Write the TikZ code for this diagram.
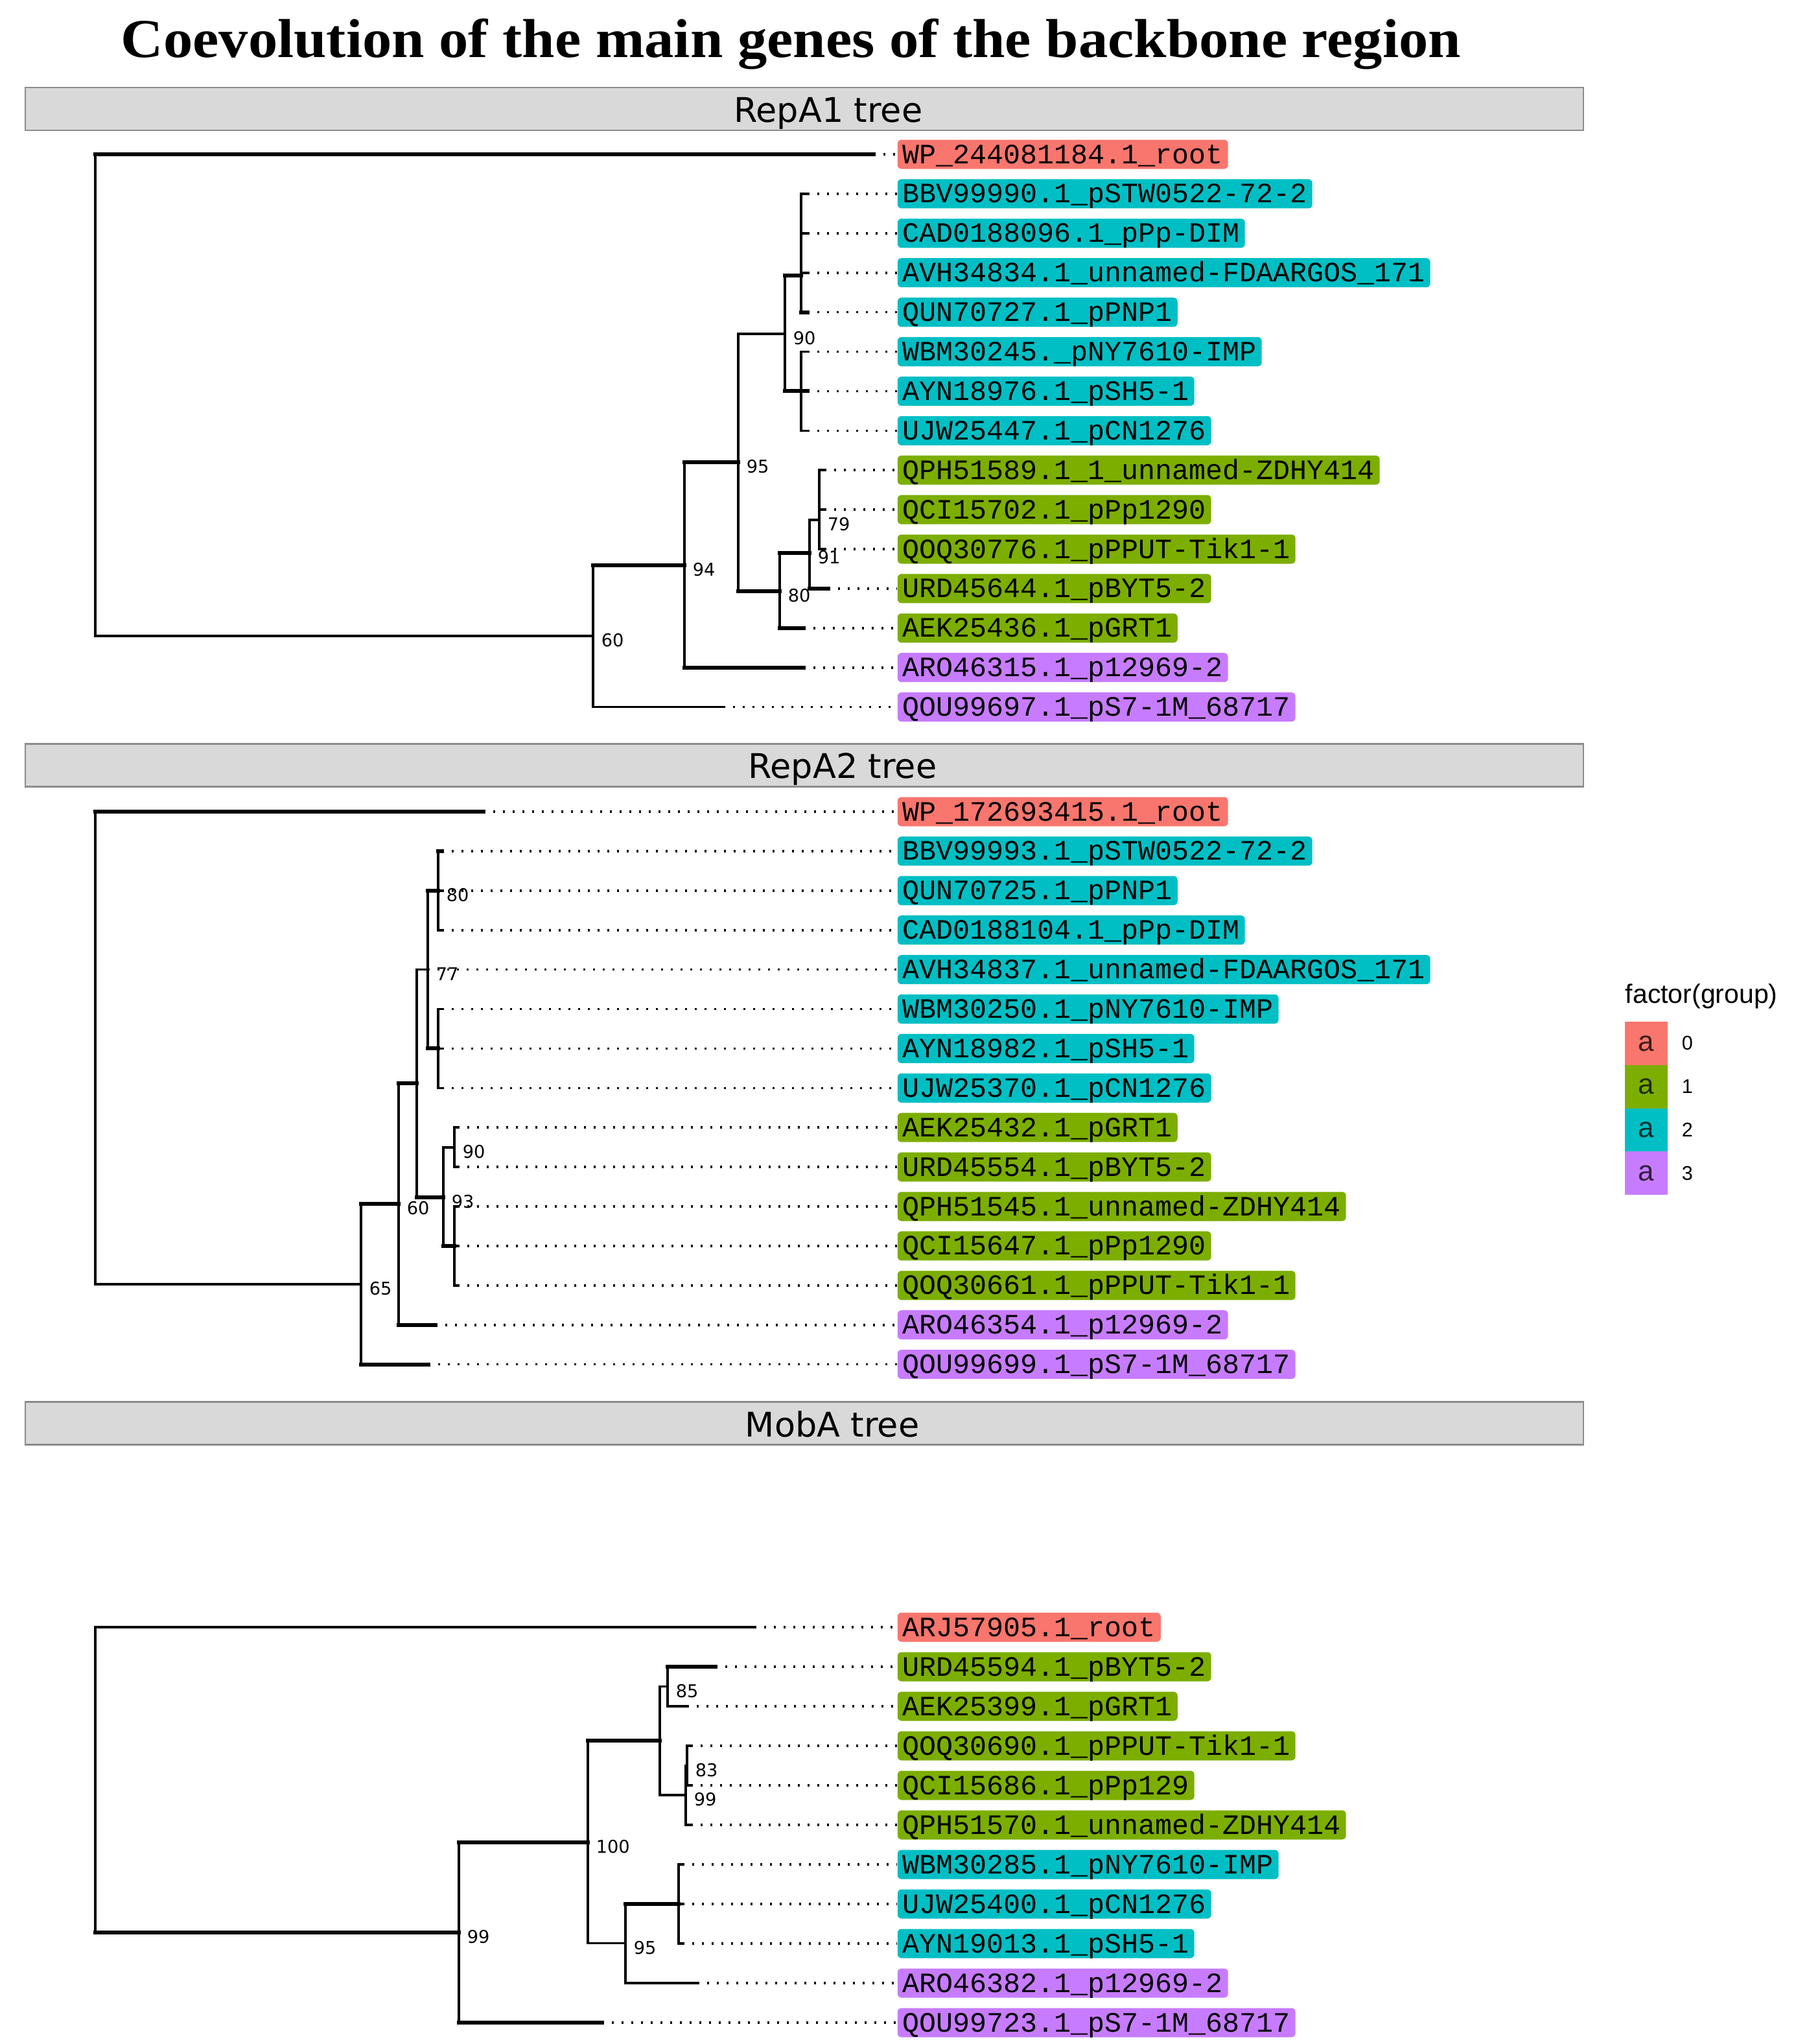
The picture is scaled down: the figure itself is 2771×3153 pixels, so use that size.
\documentclass[tikz,border=0pt]{standalone}
\usepackage{fontspec}
\usepackage{graphicx}
\usetikzlibrary{calc}
\setmainfont{DejaVu Sans}
\newfontfamily\monof{Liberation Mono}
\newfontfamily\legf{Liberation Sans}
\newfontfamily\titlef{Liberation Serif}
\definecolor{cr}{HTML}{F8766D}
\definecolor{cg}{HTML}{7CAE00}
\definecolor{cc}{HTML}{00BFC4}
\definecolor{cp}{HTML}{C77CFF}
\definecolor{stripfill}{HTML}{D9D9D9}
\definecolor{stripdraw}{HTML}{8C8C8C}
\tikzset{
  br/.style={line width=0.9pt, line cap=rect, black},
  bt/.style={line width=1.5pt},
  dots/.style={line width=0.9pt, dash pattern=on 0.85pt off 2.9pt, black},
  lab/.style={anchor=west, rounded corners=1.5pt, inner xsep=2pt, inner ysep=0pt,
    minimum height=11.25pt, text height=7pt, text depth=0pt,
    font=\monof\fontsize{10.83}{12}\selectfont},
  bsl/.style={anchor=west, inner sep=0pt, font=\fontsize{6.8}{8}\selectfont},
  strip/.style={draw=stripdraw, fill=stripfill, line width=0.6pt, inner sep=0pt,
    minimum width=601pt, minimum height=16.5pt},
  striptext/.style={anchor=base, inner sep=0pt, font=\fontsize{13.1}{15}\selectfont},
  keybox/.style={minimum size=16.7pt, inner sep=0pt, font=\legf\fontsize{11}{12}\selectfont},
  legl/.style={anchor=west, inner sep=0pt, font=\legf\fontsize{7.65}{9}\selectfont},
  legt/.style={anchor=west, inner sep=0pt, font=\legf\fontsize{10.25}{12}\selectfont}
}
\newcommand\edg[3][]{\draw[br] (#2) -- (#2 |- #3); \draw[br,#1] (#2 |- #3) -- (#3);}
\newcommand\lf[5]{\coordinate (#1e) at (#3,#2); \node[lab,fill=#4] (#1) at (1384,#2) {#5}; \draw[dots] (#1e) -- (#1.west);}
\newcommand\bs[2]{\node[bsl] (#1lbl) at ($(#1)+(12,7)$) {#2};}
\begin{document}
\begin{tikzpicture}[x=0.25pt,y=-0.25pt]
\useasboundingbox (0,0) rectangle (2771,3153);
\fill[white] (0,0) rectangle (2771,3153);

% title
\node[anchor=base west, inner sep=0pt] (title) at (186,88)
  {\resizebox{516.75pt}{\height}{\titlef\bfseries\fontsize{21.15}{24}\selectfont Coevolution of the main genes of the backbone region}};

% strips
\node[strip] (s1) at (1241,168) {};
\node[striptext] (s1t) at (1278,188) {RepA1 tree};
\node[strip] (s2) at (1241,1180.5) {};
\node[striptext] (s2t) at (1300,1200) {RepA2 tree};
\node[strip] (s3) at (1241,2195.5) {};
\node[striptext] (s3t) at (1284,2216) {MobA tree};

% ---------------- RepA1 tree ----------------
\coordinate (a1R) at (147,610);
\coordinate (a1n60) at (915,981);
\coordinate (a1n94) at (1056,872);
\coordinate (a1n95) at (1139,713);
\coordinate (a1n90) at (1211,515);
\coordinate (a1A) at (1236,425);
\coordinate (a1B) at (1236,603.4);
\coordinate (a1n80) at (1203,912);
\coordinate (a1n91) at (1249,853);
\coordinate (a1n79) at (1264,802);

\lf{a1l0}{238.0}{1348}{cr}{WP\_244081184.1\_root}
\lf{a1l1}{298.9}{1246}{cc}{BBV99990.1\_pSTW0522-72-2}
\lf{a1l2}{359.8}{1246}{cc}{CAD0188096.1\_pPp-DIM}
\lf{a1l3}{420.7}{1246}{cc}{AVH34834.1\_unnamed-FDAARGOS\_171}
\lf{a1l4}{481.6}{1246}{cc}{QUN70727.1\_pPNP1}
\lf{a1l5}{542.5}{1246}{cc}{WBM30245.\_pNY7610-IMP}
\lf{a1l6}{603.4}{1246}{cc}{AYN18976.1\_pSH5-1}
\lf{a1l7}{664.3}{1246}{cc}{UJW25447.1\_pCN1276}
\lf{a1l8}{725.2}{1272}{cg}{QPH51589.1\_1\_unnamed-ZDHY414}
\lf{a1l9}{786.1}{1272}{cg}{QCI15702.1\_pPp1290}
\lf{a1l10}{847.0}{1272}{cg}{QOQ30776.1\_pPPUT-Tik1-1}
\lf{a1l11}{907.9}{1278}{cg}{URD45644.1\_pBYT5-2}
\lf{a1l12}{968.8}{1240}{cg}{AEK25436.1\_pGRT1}
\lf{a1l13}{1029.7}{1240}{cp}{ARO46315.1\_p12969-2}
\lf{a1l14}{1090.6}{1116}{cp}{QOU99697.1\_pS7-1M\_68717}

\edg[bt]{a1R}{a1l0e}
\edg{a1R}{a1n60}
\edg[bt]{a1n60}{a1n94}
\edg{a1n60}{a1l14e}
\edg[bt]{a1n94}{a1n95}
\edg[bt]{a1n94}{a1l13e}
\edg{a1n95}{a1n90}
\edg[bt]{a1n95}{a1n80}
\edg[bt]{a1n90}{a1A}
\edg[bt]{a1n90}{a1B}
\edg{a1A}{a1l1e}
\edg{a1A}{a1l2e}
\edg{a1A}{a1l3e}
\edg[bt]{a1A}{a1l4e}
\edg{a1B}{a1l5e}
\edg[bt]{a1B}{a1l6e}
\edg{a1B}{a1l7e}
\edg[bt]{a1n80}{a1n91}
\edg[bt]{a1n80}{a1l12e}
\edg{a1n91}{a1n79}
\edg[bt]{a1n91}{a1l11e}
\edg{a1n79}{a1l8e}
\edg{a1n79}{a1l9e}
\edg{a1n79}{a1l10e}

\bs{a1n60}{60}
\bs{a1n94}{94}
\bs{a1n95}{95}
\bs{a1n90}{90}
\bs{a1n80}{80}
\bs{a1n91}{91}
\bs{a1n79}{79}

% ---------------- RepA2 tree ----------------
\coordinate (a2R) at (147,1616);
\coordinate (a2n65) at (557,1981);
\coordinate (a2n60) at (615,1857);
\coordinate (a2E) at (643,1671);
\coordinate (a2n77) at (660,1495.6);
\coordinate (a2n80) at (676,1373.8);
\coordinate (a2F) at (676,1617.4);
\coordinate (a2n93) at (684,1847);
\coordinate (a2n90) at (701,1769.7);
\coordinate (a2G) at (701,1921.9);

\lf{a2l0}{1252.0}{746}{cr}{WP\_172693415.1\_root}
\lf{a2l1}{1312.9}{682}{cc}{BBV99993.1\_pSTW0522-72-2}
\lf{a2l2}{1373.8}{682}{cc}{QUN70725.1\_pPNP1}
\lf{a2l3}{1434.7}{682}{cc}{CAD0188104.1\_pPp-DIM}
\lf{a2l4}{1495.6}{660}{cc}{AVH34837.1\_unnamed-FDAARGOS\_171}
\lf{a2l5}{1556.5}{682}{cc}{WBM30250.1\_pNY7610-IMP}
\lf{a2l6}{1617.4}{682}{cc}{AYN18982.1\_pSH5-1}
\lf{a2l7}{1678.3}{682}{cc}{UJW25370.1\_pCN1276}
\lf{a2l8}{1739.2}{706}{cg}{AEK25432.1\_pGRT1}
\lf{a2l9}{1800.1}{706}{cg}{URD45554.1\_pBYT5-2}
\lf{a2l10}{1861.0}{706}{cg}{QPH51545.1\_unnamed-ZDHY414}
\lf{a2l11}{1921.9}{706}{cg}{QCI15647.1\_pPp1290}
\lf{a2l12}{1982.8}{706}{cg}{QOQ30661.1\_pPPUT-Tik1-1}
\lf{a2l13}{2043.7}{672}{cp}{ARO46354.1\_p12969-2}
\lf{a2l14}{2104.6}{661}{cp}{QOU99699.1\_pS7-1M\_68717}

\edg[bt]{a2R}{a2l0e}
\edg{a2R}{a2n65}
\edg[bt]{a2n65}{a2n60}
\edg[bt]{a2n65}{a2l14e}
\edg[bt]{a2n60}{a2E}
\edg[bt]{a2n60}{a2l13e}
\edg{a2E}{a2n77}
\edg[bt]{a2E}{a2n93}
\edg[bt]{a2n77}{a2n80}
\edg[bt]{a2n77}{a2F}
\edg[bt]{a2n80}{a2l1e}
\edg{a2n80}{a2l2e}
\edg{a2n80}{a2l3e}
\edg{a2F}{a2l5e}
\edg{a2F}{a2l6e}
\edg{a2F}{a2l7e}
\edg{a2n93}{a2n90}
\edg[bt]{a2n93}{a2G}
\edg{a2n90}{a2l8e}
\edg{a2n90}{a2l9e}
\edg{a2G}{a2l10e}
\edg{a2G}{a2l11e}
\edg{a2G}{a2l12e}

\bs{a2n65}{65}
\bs{a2n60}{60}
\bs{a2n77}{77}
\bs{a2n80}{80}
\bs{a2n90}{90}
\bs{a2n93}{93}

% ---------------- MobA tree ----------------
\coordinate (a3R) at (147,2745);
\coordinate (a3n99) at (708,2981);
\coordinate (a3n100) at (907,2842);
\coordinate (a3H) at (1018,2685);
\coordinate (a3n85) at (1030,2601.5);
\coordinate (a3n99x) at (1058,2769);
\coordinate (a3n83) at (1060,2723.5);
\coordinate (a3n95) at (965,2997.5);
\coordinate (a3I) at (1047,2937);

\lf{a3l0}{2510}{1164}{cr}{ARJ57905.1\_root}
\lf{a3l1}{2571}{1104}{cg}{URD45594.1\_pBYT5-2}
\lf{a3l2}{2632}{1060}{cg}{AEK25399.1\_pGRT1}
\lf{a3l3}{2693}{1066}{cg}{QOQ30690.1\_pPPUT-Tik1-1}
\lf{a3l4}{2754}{1066}{cg}{QCI15686.1\_pPp129}
\lf{a3l5}{2815}{1066}{cg}{QPH51570.1\_unnamed-ZDHY414}
\lf{a3l6}{2876}{1053}{cc}{WBM30285.1\_pNY7610-IMP}
\lf{a3l7}{2937}{1053}{cc}{UJW25400.1\_pCN1276}
\lf{a3l8}{2998}{1053}{cc}{AYN19013.1\_pSH5-1}
\lf{a3l9}{3059}{1076}{cp}{ARO46382.1\_p12969-2}
\lf{a3l10}{3120}{929}{cp}{QOU99723.1\_pS7-1M\_68717}

\edg{a3R}{a3l0e}
\edg[bt]{a3R}{a3n99}
\edg[bt]{a3n99}{a3n100}
\edg[bt]{a3n99}{a3l10e}
\edg[bt]{a3n100}{a3H}
\edg{a3n100}{a3n95}
\edg{a3H}{a3n85}
\edg{a3H}{a3n99x}
\edg[bt]{a3n85}{a3l1e}
\edg{a3n85}{a3l2e}
\edg{a3n99x}{a3n83}
\edg{a3n99x}{a3l5e}
\edg{a3n83}{a3l3e}
\edg{a3n83}{a3l4e}
\edg[bt]{a3n95}{a3I}
\edg{a3n95}{a3l9e}
\edg{a3I}{a3l6e}
\edg{a3I}{a3l7e}
\edg{a3I}{a3l8e}

\bs{a3n99}{99}
\bs{a3n100}{100}
\bs{a3n85}{85}
\bs{a3n83}{83}
\bs{a3n99x}{99}
\bs{a3n95}{95}

% ---------------- legend ----------------
\node[legt] (legtitle) at (2507,1537) {factor(group)};
\node[keybox, fill=cr, text=cr!25!black] (k0) at (2540,1609.4) {a};
\node[keybox, fill=cg, text=cg!25!black] (k1) at (2540,1676.1) {a};
\node[keybox, fill=cc, text=cc!25!black] (k2) at (2540,1742.9) {a};
\node[keybox, fill=cp, text=cp!25!black] (k3) at (2540,1809.6) {a};
\node[legl] (k0l) at (2594,1609.4) {0};
\node[legl] (k1l) at (2594,1676.1) {1};
\node[legl] (k2l) at (2594,1742.9) {2};
\node[legl] (k3l) at (2594,1809.6) {3};
\end{tikzpicture}
\end{document}
